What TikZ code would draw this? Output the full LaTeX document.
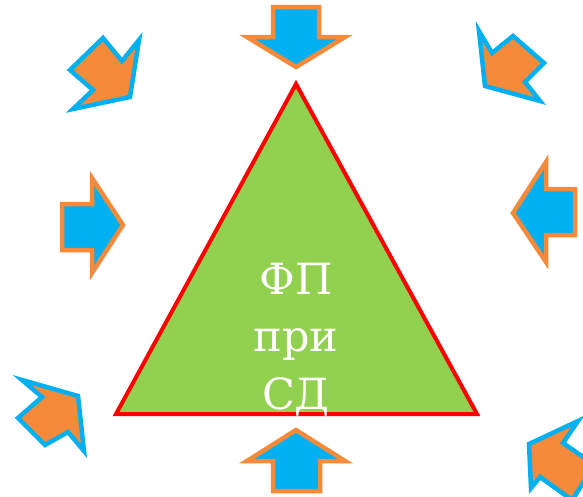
\documentclass[tikz,border=0pt]{standalone}
\usepackage{fontspec}
\newfontfamily\labelfont{DejaVu Serif}
\definecolor{tgreen}{HTML}{92D050}
\definecolor{tred}{HTML}{FF0000}
\definecolor{aorange}{HTML}{F58A3A}
\definecolor{ablue}{HTML}{00B0F0}
\tikzset{
  tri/.style={draw=tred, fill=tgreen, line width=4pt, line join=miter},
  arrowA/.style={draw=aorange, fill=ablue, line width=4.5pt, line join=miter},
  arrowB/.style={draw=ablue, fill=aorange, line width=4.5pt, line join=miter},
  lbl/.style={text=white, font=\labelfont\fontsize{43}{57}\selectfont, anchor=base, inner sep=0pt}
}
\begin{document}
\begin{tikzpicture}[x=1pt,y=-1pt]
\useasboundingbox (0,0) rectangle (583,496);
\clip (0,0) rectangle (583,496);
% triangle
\draw[tri] (296,84) coordinate (apex) -- (477,414) coordinate (br) -- (116,414) coordinate (bl) -- cycle;
\node[lbl] (t1) at (296,294) {ФП};
\node[lbl] (t2) at (296,351) {при};
\node[lbl] (t3) at (296,409) {СД};
% straight arrows (blue fill, orange outline)
\draw[arrowA] (273,7) -- (319,7) -- (319,37) -- (345,37) -- (296,67) -- (247,37) -- (273,37) -- cycle;
\draw[arrowA] (296,430) -- (345,461) -- (320,461) -- (320,491) -- (273,491) -- (273,461) -- (247,461) -- cycle;
\draw[arrowA] (62,204) -- (92,204) -- (92,178) -- (123,225) -- (92,273) -- (92,250) -- (62,250) -- cycle;
\draw[arrowA] (513,213) -- (546,162) -- (546,189) -- (575,189) -- (575,235) -- (546,235) -- (546,262) -- cycle;
% diagonal arrows (orange fill, blue outline)
\draw[arrowB] (103,38) -- (122,61) -- (139,40) -- (130,97) -- (73,109) -- (93,90) -- (70,70) -- cycle;
\draw[arrowB] (479,31) -- (492,53) -- (513,36) -- (544,63) -- (525,82) -- (540,101) -- (485,86) -- cycle;
\draw[arrowB] (22,380) -- (78,396) -- (84,451) -- (68,432) -- (45,445) -- (18,418) -- (42,397) -- cycle;
\draw[arrowB] (529,444) -- (578,421) -- (563,443) -- (595,465) -- (572,500) -- (540,477) -- (531,488) -- cycle;
\end{tikzpicture}
\end{document}
